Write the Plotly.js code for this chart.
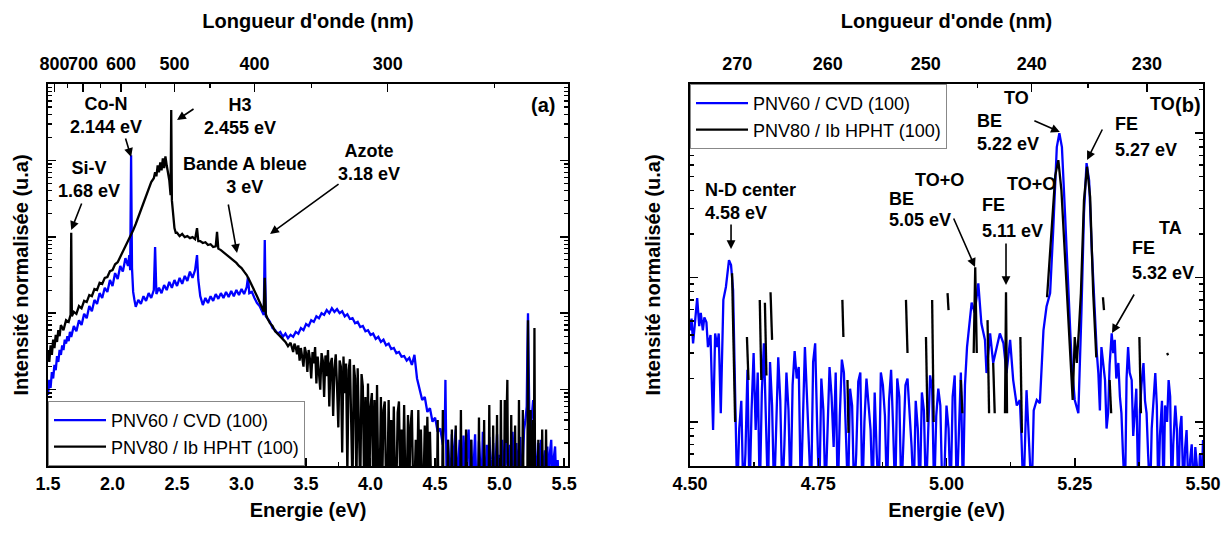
<!DOCTYPE html>
<html>
<head>
<meta charset="utf-8">
<script src="https://cdn.plot.ly/plotly-3.0.1.min.js"></script>
<style>html,body{margin:0;padding:0;background:#fff}#chart{width:1225px;height:534px}</style>
</head>
<body>
<div id="chart"></div>
<script>
// ---------- DATA ----------
// Panel (a): [energy eV, normalised intensity]
const spectrumA_CVD = [[1.50,8.5],[1.51,13.4],[1.52,10.5],[1.53,17],[1.54,14],[1.55,21],[1.56,18],[1.57,27.5],[1.58,23],[1.59,33],[1.60,28.5],[1.61,38],[1.62,33],[1.63,45],[1.64,40],[1.65,50],[1.66,43],[1.67,57],[1.68,49],[1.70,68],[1.72,58],[1.74,81],[1.76,70],[1.78,98],[1.80,86],[1.82,124],[1.84,106],[1.86,149],[1.88,132],[1.90,183],[1.92,158],[1.94,215],[1.96,190],[1.98,272],[2.00,227],[2.02,335],[2.04,280],[2.06,415],[2.08,350],[2.10,525],[2.12,415],[2.13,577],[2.137,367],[2.144,11700],[2.151,390],[2.16,190],[2.17,149],[2.18,121],[2.20,149],[2.22,132],[2.24,167],[2.26,145],[2.28,183],[2.30,158],[2.32,201],[2.33,735],[2.34,178],[2.36,215],[2.38,183],[2.40,234],[2.42,201],[2.44,257],[2.46,215],[2.48,272],[2.50,227],[2.52,290],[2.54,242],[2.56,307],[2.58,265],[2.60,350],[2.62,290],[2.64,367],[2.655,577],[2.665,272],[2.68,167],[2.70,128],[2.72,158],[2.74,136],[2.76,167],[2.78,145],[2.80,178],[2.82,154],[2.84,183],[2.86,158],[2.88,190],[2.90,163],[2.92,195],[2.94,167],[2.96,201],[2.98,173],[3.00,207],[3.02,178],[3.04,220],[3.05,298],[3.06,183],[3.08,190],[3.10,158],[3.12,136],[3.14,124],[3.16,104],[3.172,95],[3.18,905],[3.188,91],[3.20,86],[3.22,77],[3.24,64],[3.26,60],[3.28,54],[3.30,57],[3.32,49],[3.34,54],[3.36,47],[3.38,52],[3.40,49],[3.42,57],[3.44,54],[3.46,64],[3.48,60],[3.50,72],[3.52,68],[3.54,81],[3.56,77],[3.58,91],[3.60,86],[3.62,100],[3.64,95],[3.66,110],[3.68,100],[3.70,116],[3.72,104],[3.74,113],[3.76,100],[3.78,106],[3.80,91],[3.82,97],[3.84,84],[3.86,86],[3.88,74],[3.90,77],[3.92,66],[3.94,68],[3.96,58],[3.98,60],[4.00,52],[4.02,54],[4.04,46],[4.06,49],[4.08,42],[4.10,45],[4.12,38],[4.14,40],[4.16,34],[4.18,35],[4.20,30],[4.22,31],[4.24,27],[4.26,27.5],[4.28,24],[4.30,26],[4.32,21],[4.34,28.5],[4.36,14],[4.38,9.9],[4.40,7.3],[4.42,8],[4.44,5.1],[4.46,5.7],[4.48,3.8],[4.50,4.3],[4.52,2.8],[4.54,3.1],[4.56,1.9],[4.57,3.5],[4.575,3],[4.58,13.4],[4.585,2],[4.59,0.5],[4.60,2.2],[4.61,1.2],[4.62,0.5],[4.63,2.6],[4.64,0.5],[4.65,1.8],[4.66,3.0],[4.67,0.5],[4.68,1.4],[4.69,2.2],[4.70,0.5],[4.71,0.5],[4.72,2.5],[4.73,1.2],[4.74,0.5],[4.75,1.9],[4.76,3.0],[4.77,0.5],[4.78,2.2],[4.79,0.5],[4.80,1.5],[4.81,2.6],[4.82,0.5],[4.83,0.5],[4.84,2.1],[4.85,1.2],[4.86,0.5],[4.87,2.8],[4.88,1.5],[4.89,0.5],[4.90,1.9],[4.91,0.5],[4.92,2.4],[4.93,1.3],[4.94,0.5],[4.95,2.0],[4.96,0.5],[4.97,1.2],[4.98,2.6],[4.99,0.5],[5.00,1.4],[5.01,0.5],[5.02,2.2],[5.03,1.1],[5.04,0.5],[5.05,2.3],[5.06,1.6],[5.07,0.5],[5.08,1.9],[5.09,0.5],[5.10,2.8],[5.11,1.3],[5.12,0.5],[5.13,2.0],[5.14,0.5],[5.15,1.6],[5.16,2.4],[5.17,0.5],[5.18,1.5],[5.19,3.0],[5.20,4.0],[5.21,6],[5.215,30],[5.22,100],[5.225,20],[5.23,5],[5.24,3.0],[5.25,5],[5.26,7.3],[5.27,3],[5.28,1.6],[5.29,0.5],[5.30,2.0],[5.31,0.5],[5.32,2.2],[5.33,1.4],[5.34,0.5],[5.35,1.6],[5.36,0.5],[5.37,1.8],[5.38,0.5],[5.39,1.5],[5.40,2.2],[5.41,0.5],[5.42,1.3],[5.43,1.8],[5.44,0.5],[5.45,1.2],[5.46,0.5]];

const spectrumA_HPHT = [[1.50,33],[1.51,23],[1.52,38],[1.53,28.5],[1.54,45],[1.55,35],[1.56,52],[1.57,42],[1.58,60],[1.59,50],[1.60,70],[1.62,60],[1.64,81],[1.66,77],[1.675,95],[1.68,1130],[1.685,91],[1.70,104],[1.72,98],[1.74,124],[1.76,116],[1.78,145],[1.80,140],[1.82,173],[1.84,167],[1.86,207],[1.88,201],[1.90,250],[1.92,242],[1.94,290],[1.96,298],[1.98,355],[2.00,367],[2.02,437],[2.04,465],[2.06,545],[2.08,630],[2.10,735],[2.12,880],[2.14,1020],[2.16,1220],[2.18,1470],[2.20,1820],[2.22,2230],[2.24,2750],[2.26,3400],[2.28,4070],[2.30,5200],[2.32,5840],[2.33,7000],[2.34,6200],[2.35,8630],[2.36,7000],[2.37,9400],[2.38,7430],[2.39,10600],[2.40,7900],[2.41,11300],[2.42,8630],[2.43,7000],[2.44,5500],[2.45,3500],[2.455,45700],[2.46,3020],[2.47,1920],[2.48,1300],[2.49,1130],[2.50,1130],[2.52,1020],[2.54,1090],[2.56,990],[2.58,1020],[2.60,960],[2.62,990],[2.64,930],[2.655,1300],[2.665,880],[2.68,880],[2.70,830],[2.72,850],[2.74,780],[2.76,800],[2.78,735],[2.80,750],[2.81,1160],[2.82,700],[2.84,670],[2.86,630],[2.88,595],[2.90,545],[2.92,525],[2.94,485],[2.96,455],[2.98,415],[3.00,390],[3.02,350],[3.04,316],[3.06,272],[3.08,234],[3.10,195],[3.12,167],[3.14,140],[3.16,116],[3.172,105],[3.18,290],[3.188,97],[3.20,86],[3.22,74],[3.24,68],[3.26,58],[3.28,54],[3.30,50],[3.32,45],[3.34,42],[3.36,37],[3.38,41],[3.40,31],[3.41,40],[3.42,36],[3.43,29],[3.44,38],[3.45,24],[3.46,35],[3.47,28],[3.48,20],[3.49,36],[3.50,30],[3.51,17],[3.52,33],[3.53,25],[3.54,14],[3.55,31],[3.56,22],[3.57,36],[3.58,12],[3.59,27],[3.60,18],[3.61,10],[3.62,30],[3.63,24],[3.64,8],[3.65,28],[3.66,15],[3.67,33],[3.68,6],[3.69,22],[3.70,26],[3.71,4.5],[3.72,19],[3.73,29],[3.74,11],[3.75,3.2],[3.76,24],[3.77,20],[3.78,1.5],[3.79,27],[3.80,9],[3.81,22],[3.82,0.8],[3.83,18],[3.84,25],[3.85,5],[3.86,0.5],[3.87,21],[3.88,14],[3.89,0.5],[3.90,19],[3.91,3],[3.92,0.5],[3.93,16],[3.94,11],[3.95,0.5],[3.96,8],[3.97,0.5],[3.98,12],[3.99,0.5],[4.00,6],[4.01,9],[4.02,0.5],[4.03,7.3],[4.04,0.5],[4.05,11.5],[4.06,0.5],[4.07,0.5],[4.08,8],[4.09,0.5],[4.10,5.4],[4.11,7],[4.12,0.5],[4.13,0.5],[4.14,7.3],[4.15,0.5],[4.16,4],[4.17,0.5],[4.18,6],[4.19,0.5],[4.20,0.5],[4.21,5],[4.22,7],[4.23,0.5],[4.24,3],[4.25,0.5],[4.26,6.3],[4.27,0.5],[4.28,0.5],[4.29,4.65],[4.30,0.5],[4.31,3.4],[4.32,5.4],[4.33,0.5],[4.34,0.5],[4.35,2.2],[4.36,0.5],[4.37,5.4],[4.38,0.5],[4.39,3],[4.40,0.5],[4.41,0.5],[4.42,3.4],[4.43,0.5],[4.44,4.4],[4.45,0.5],[4.46,2.8],[4.47,0.5],[4.48,0.5],[4.515,0.5],[4.52,4.0],[4.525,0.5],[4.555,0.5],[4.56,5.4],[4.565,0.5],[4.595,0.5],[4.60,2.2],[4.605,0.5],[4.625,0.5],[4.63,3.0],[4.635,0.5],[4.655,0.5],[4.66,3.4],[4.665,0.5],[4.695,0.5],[4.70,5.4],[4.705,0.5],[4.735,0.5],[4.74,3.0],[4.745,0.5],[4.775,0.5],[4.78,2.2],[4.785,0.5],[4.835,0.5],[4.84,4.3],[4.845,0.5],[4.875,0.5],[4.88,4.0],[4.885,0.5],[4.915,0.5],[4.92,6.3],[4.925,0.5],[4.945,0.5],[4.95,3.4],[4.955,0.5],[4.975,0.5],[4.98,4.65],[4.985,0.5],[5.005,0.5],[5.01,7.3],[5.015,0.5],[5.035,0.5],[5.04,7.3],[5.05,2],[5.06,13.4],[5.065,0.5],[5.085,0.5],[5.09,4.65],[5.095,0.5],[5.115,0.5],[5.12,3.4],[5.125,0.5],[5.145,0.5],[5.15,7.3],[5.155,0.5],[5.175,0.5],[5.18,5.4],[5.185,0.5],[5.215,0.5],[5.22,81],[5.225,0.5],[5.235,0.5],[5.24,5.4],[5.245,0.5],[5.255,0.5],[5.26,4.0],[5.265,0.5],[5.27,64],[5.275,0.5],[5.295,0.5],[5.30,2.2],[5.305,0.5],[5.325,0.5],[5.33,3.0],[5.335,0.5],[5.355,0.5],[5.36,3.0],[5.365,0.5]];

// Panel (b): [energy eV, normalised intensity]  (null = no signal)
const spectrumB_CVD = [[4.500,43],[4.503,52],[4.506,35],[4.510,49],[4.514,72],[4.518,46],[4.521,57],[4.525,43],[4.528,53],[4.532,49],[4.535,33],[4.540,40],[4.545,8.8],[4.549,41],[4.553,33],[4.556,41],[4.560,11.5],[4.565,70],[4.570,86],[4.576,132],[4.580,122],[4.584,82],[4.588,19.5],[4.592,3],[4.596,9],[4.600,14],[4.604,3],[4.608,6],[4.612,23],[4.616,3],[4.620,12],[4.624,30],[4.628,8.8],[4.632,22],[4.636,3],[4.640,16],[4.644,35],[4.648,11],[4.652,3],[4.656,26],[4.660,13],[4.664,3],[4.668,9],[4.672,28],[4.676,14],[4.680,3],[4.684,7],[4.688,22],[4.692,12],[4.696,3],[4.700,18],[4.704,31],[4.708,20],[4.712,24],[4.716,3],[4.720,10],[4.724,33],[4.728,15],[4.732,6.5],[4.736,3],[4.740,26],[4.744,35],[4.748,9],[4.752,3],[4.756,20],[4.760,12],[4.764,3],[4.768,8],[4.772,24],[4.776,15],[4.780,6.7],[4.784,22],[4.788,3],[4.792,11],[4.796,27],[4.800,22],[4.804,9],[4.808,3],[4.812,17],[4.816,13],[4.820,3],[4.824,6],[4.828,19],[4.832,22],[4.836,3],[4.840,10],[4.844,20],[4.848,14],[4.852,8.8],[4.856,3],[4.860,16],[4.864,6],[4.868,3],[4.872,22],[4.876,18],[4.880,11],[4.884,3],[4.888,14],[4.892,23],[4.896,9],[4.900,3],[4.904,20],[4.908,15],[4.912,3],[4.916,7],[4.920,18],[4.924,20],[4.928,12],[4.932,6.7],[4.936,3],[4.940,14],[4.944,9],[4.948,3],[4.952,16],[4.956,12],[4.960,3],[4.964,8],[4.968,21],[4.972,17],[4.976,3],[4.980,11],[4.984,17],[4.988,13],[4.992,3],[4.996,4.6],[5.000,13],[5.004,9],[5.008,3],[5.012,15],[5.016,21],[5.020,3],[5.024,10],[5.028,22],[5.032,3],[5.036,18],[5.040,33],[5.049,67],[5.055,57],[5.062,91],[5.068,48],[5.075,37],[5.078,21.8],[5.085,41],[5.091,25.6],[5.098,33],[5.104,41],[5.111,35],[5.117,21.8],[5.124,37],[5.130,19.5],[5.137,13],[5.143,14.2],[5.146,8],[5.150,3],[5.156,16.6],[5.160,9],[5.166,3],[5.170,12],[5.176,14.2],[5.182,13.5],[5.189,43],[5.195,63],[5.202,78],[5.208,212],[5.215,800],[5.220,1000],[5.225,800],[5.231,279],[5.237,96],[5.244,25.6],[5.250,14.2],[5.257,11.5],[5.263,57],[5.268,279],[5.273,620],[5.278,471],[5.283,162],[5.289,57],[5.293,30],[5.296,21.8],[5.299,12],[5.302,33],[5.305,25],[5.309,19.5],[5.312,9],[5.315,11.5],[5.318,25],[5.322,41],[5.325,30],[5.328,37],[5.331,20],[5.335,25.6],[5.338,15],[5.341,11.5],[5.344,6],[5.348,3],[5.351,20],[5.354,33],[5.357,22],[5.361,19.5],[5.364,8],[5.367,11.5],[5.370,17],[5.374,3],[5.377,12],[5.380,18],[5.384,25.6],[5.387,14],[5.390,11.5],[5.393,6],[5.397,3],[5.400,9],[5.404,16],[5.407,21.8],[5.410,13],[5.413,3],[5.416,8],[5.420,14],[5.423,3],[5.426,13],[5.430,10],[5.433,19.5],[5.436,15],[5.439,3],[5.442,7],[5.446,13],[5.449,9],[5.452,3],[5.455,8.8],[5.458,11],[5.462,3],[5.465,6.5],[5.468,8.8],[5.472,3],[5.475,5.5],[5.478,7],[5.482,3],[5.485,6.7],[5.488,5],[5.491,3],[5.494,6],[5.497,3],[5.500,7.5]];

const spectrumB_HPHT = [[4.582,107],[4.588,10],[4.589,null],[4.611,38.7],[4.614,19.5],[4.615,null],[4.636,70],[4.639,19.5],[4.643,null],[4.646,67],[4.649,21],[4.652,null],[4.657,79],[4.660,37],[4.661,null],[4.797,70],[4.799,38.7],[4.800,null],[4.807,19.5],[4.809,8.4],[4.810,null],[4.921,70],[4.924,30],[4.925,null],[4.960,38.7],[4.963,10],[4.964,null],[4.972,70],[4.975,10],[4.976,null],[5.002,78],[5.004,59.5],[5.005,null],[5.028,19.5],[5.031,11.5],[5.032,null],[5.053,30],[5.056,118],[5.059,30],[5.060,null],[5.080,50.7],[5.083,11.5],[5.084,null],[5.091,25.6],[5.094,11.5],[5.095,null],[5.114,11.5],[5.116,79],[5.118,11.5],[5.119,null],[5.144,38.7],[5.147,8.4],[5.148,null],[5.196,73],[5.205,212],[5.212,508],[5.218,650],[5.224,402],[5.230,162],[5.236,63],[5.242,21.8],[5.246,14.2],[5.250,38.7],[5.254,25.6],[5.258,43],[5.262,78],[5.268,342],[5.274,585],[5.280,361],[5.286,78],[5.292,28],[5.293,null],[5.305,73],[5.307,59.5],[5.308,null],[5.318,19.5],[5.321,11.5],[5.322,null],[5.376,38.7],[5.379,11.5],[5.380,null],[5.430,30],[5.432,29]];

const seriesNames = ['PNV60 / CVD (100)', 'PNV80 / Ib HPHT (100)'];
const seriesColors = ['#0000ff', '#000000'];

// Energy tick labels and top wavelength (nm) tick labels
const energyTicksA = [1.5, 2.0, 2.5, 3.0, 3.5, 4.0, 4.5, 5.0, 5.5];
const energyTicksB = [4.50, 4.75, 5.00, 5.25, 5.50];
const wavelengthTicksA = [800, 700, 600, 500, 400, 300];
const wavelengthMinorA = [750, 650, 550, 450, 350, 250];
const wavelengthTicksB = [270, 260, 250, 240, 230];
const wavelengthMinorB = [275, 265, 255, 245, 235];
const HC = 1239.84; // eV·nm, converts wavelength tick labels to energy positions

// ---------- STYLE ----------
const FONT = 'Liberation Sans, Arial, sans-serif';
const W = 1225, H = 534;
const px = v => v / W;
const py = v => 1 - v / H;
const boldFont = s => ({family: FONT, size: s, color: '#000', weight: 'bold'});

const traces = [
  {x: spectrumA_CVD.map(p => p[0]), y: spectrumA_CVD.map(p => p[1]), name: seriesNames[0], xaxis: 'x', yaxis: 'y', legend: 'legend', line: {color: seriesColors[0], width: 2.3}},
  {x: spectrumA_HPHT.map(p => p[0]), y: spectrumA_HPHT.map(p => p[1]), name: seriesNames[1], xaxis: 'x', yaxis: 'y', legend: 'legend', line: {color: seriesColors[1], width: 2.3}},
  {x: spectrumB_CVD.map(p => p[0]), y: spectrumB_CVD.map(p => p[1]), name: seriesNames[0], xaxis: 'x2', yaxis: 'y2', legend: 'legend2', line: {color: seriesColors[0], width: 2.3}},
  {x: spectrumB_HPHT.map(p => p[0]), y: spectrumB_HPHT.map(p => p[1]), name: seriesNames[1], xaxis: 'x2', yaxis: 'y2', legend: 'legend2', line: {color: seriesColors[1], width: 2.3}, connectgaps: false},
  {x: [], y: [], xaxis: 'x3', yaxis: 'y', showlegend: false, hoverinfo: 'skip'},
  {x: [], y: [], xaxis: 'x4', yaxis: 'y2', showlegend: false, hoverinfo: 'skip'}
].map(t => Object.assign({type: 'scatter', mode: 'lines'}, t));

const domA = [px(48), px(568)], domB = [px(690), px(1203)];
const domY = [py(466), py(84)];

function bottomAxis(domain, range, ticks, fmt, minorStep, anchor) {
  return {
    domain, range, anchor, tickmode: 'array', tickvals: ticks, ticktext: ticks.map(v => v.toFixed(fmt)),
    ticks: 'inside', ticklen: 8, tickwidth: 1.5, tickcolor: '#000',
    minor: {dtick: minorStep, tick0: ticks[0], ticks: 'inside', ticklen: 4, tickwidth: 1.3, tickcolor: '#000'},
    showline: true, linewidth: 2, linecolor: '#000', mirror: true,
    showgrid: false, zeroline: false, tickangle: 0,
    tickfont: boldFont(18),
    title: {text: 'Energie (eV)', font: boldFont(20), standoff: 10}
  };
}
function topAxis(over, range, labels, minor) {
  return {
    overlaying: over, side: 'top', anchor: over === 'x' ? 'y' : 'y2', range,
    tickmode: 'array', tickvals: labels.map(l => HC / l), ticktext: labels.map(String),
    ticks: 'inside', ticklen: 8, tickwidth: 1.5, tickcolor: '#000',
    minor: {tickmode: 'array', tickvals: minor.map(l => HC / l), ticks: 'inside', ticklen: 4, tickwidth: 1.3, tickcolor: '#000'},
    showline: false, showgrid: false, zeroline: false, tickangle: 0,
    ticklabelstandoff: 9,
    tickfont: boldFont(18),
    title: {text: "Longueur d'onde (nm)", font: boldFont(20), standoff: 20}
  };
}
function leftAxis(range, anchor, standoff) {
  return {
    domain: domY, type: 'log', range, anchor, showticklabels: false,
    dtick: 1, ticks: 'inside', ticklen: 8, tickwidth: 1.5, tickcolor: '#000',
    minor: {dtick: 'D1', ticks: 'inside', ticklen: 4, tickwidth: 1.3, tickcolor: '#000'},
    showline: true, linewidth: 2, linecolor: '#000', mirror: 'ticks',
    showgrid: false, zeroline: false,
    title: {text: 'Intensité normalisée (u.a)', font: boldFont(20), standoff}
  };
}

const legendStyle = (x, y, yanchor) => ({
  x, y, xanchor: 'left', yanchor, bgcolor: '#fff', bordercolor: '#888', borderwidth: 1,
  font: {family: FONT, size: 18, color: '#000'}, tracegroupgap: 0, traceorder: 'normal', itemwidth: 52
});

// annotations (explicit anchors: paper-referenced 'auto' anchors would shift the text)
const txt = (xref, x, ypx, text, extra) => Object.assign({xref, x, yref: 'paper', y: py(ypx), text, showarrow: false, xanchor: 'center', yanchor: 'middle', font: boldFont(18)}, extra || {});
const arrow = (xref, x, ypx, ax, ay) => ({xref, x, yref: 'paper', y: py(ypx), text: '', showarrow: true, arrowhead: 2, arrowsize: 1.1, arrowwidth: 1.6, arrowcolor: '#000', ax, ay});
const L = {xanchor: 'left'};

const annotations = [
  // panel (a)
  txt('x', 1.95, 116, 'Co-N<br>2.144 eV'), arrow('x', 2.144, 157, -6, -20),
  txt('x', 1.818, 179, 'Si-V<br>1.68 eV'), arrow('x', 1.68, 230, 11, -28),
  txt('x', 2.988, 117, 'H3<br>2.455 eV'), arrow('x', 2.50, 120, 18, -12),
  txt('x', 3.027, 175, 'Bande A bleue<br>3 eV'), arrow('x', 2.965, 253, -9, -50),
  txt('x', 3.988, 163, 'Azote<br>3.18 eV'), arrow('x', 3.221, 234, 70, -51),
  txt('x', 5.337, 105, '(a)', {font: boldFont(20)}),
  // panel (b)
  txt('x2', 4.5253, 190, 'N-D center', L), txt('x2', 4.5253, 213, '4.58 eV', L), arrow('x2', 4.58, 249, 0, -26),
  txt('x2', 4.884, 199, 'BE', L), txt('x2', 4.935, 180, 'TO+O', L), txt('x2', 4.884, 220, '5.05 eV', L), arrow('x2', 5.0556, 267, -22, -50),
  txt('x2', 5.065, 205, 'FE', L), txt('x2', 5.114, 184, 'TO+O', L), txt('x2', 5.065, 231, '5.11 eV', L), arrow('x2', 5.116, 285, 0, -43),
  txt('x2', 5.0556, 121, 'BE', L), txt('x2', 5.108, 98, 'TO', L), txt('x2', 5.0556, 144, '5.22 eV', L), arrow('x2', 5.221, 132, -27, -12),
  txt('x2', 5.3246, 124, 'FE', L), txt('x2', 5.393, 104, 'TO', L), txt('x2', 5.3246, 150, '5.27 eV', L), arrow('x2', 5.274, 160, 16, -32),
  txt('x2', 5.3577, 248, 'FE', L), txt('x2', 5.410, 228, 'TA', L), txt('x2', 5.3577, 273, '5.32 eV', L), arrow('x2', 5.3226, 333, 23, -40),
  txt('x2', 5.5, 105, '(b)', {xanchor: 'right', font: boldFont(20)})
];

const layout = {
  width: W, height: H, margin: {l: 0, r: 0, t: 0, b: 0},
  paper_bgcolor: '#fff', plot_bgcolor: '#fff',
  font: {family: FONT, color: '#000'},
  showlegend: true,
  xaxis: bottomAxis(domA, [1.5, 5.53], energyTicksA, 1, 0.25, 'y'),
  xaxis2: bottomAxis(domB, [4.5, 5.5], energyTicksB, 2, 0.125, 'y2'),
  xaxis3: topAxis('x', [1.5, 5.53], wavelengthTicksA, wavelengthMinorA),
  xaxis4: topAxis('x2', [4.5, 5.5], wavelengthTicksB, wavelengthMinorB),
  yaxis: leftAxis([0, 5], 'x', 12),
  yaxis2: leftAxis([0.695, 3.34], 'x2', 22),
  legend: legendStyle(px(48), py(466), 'bottom'),
  legend2: legendStyle(px(690), py(84), 'top'),
  annotations
};

Plotly.newPlot('chart', traces, layout, {displayModeBar: false, staticPlot: true});
</script>
</body>
</html>
